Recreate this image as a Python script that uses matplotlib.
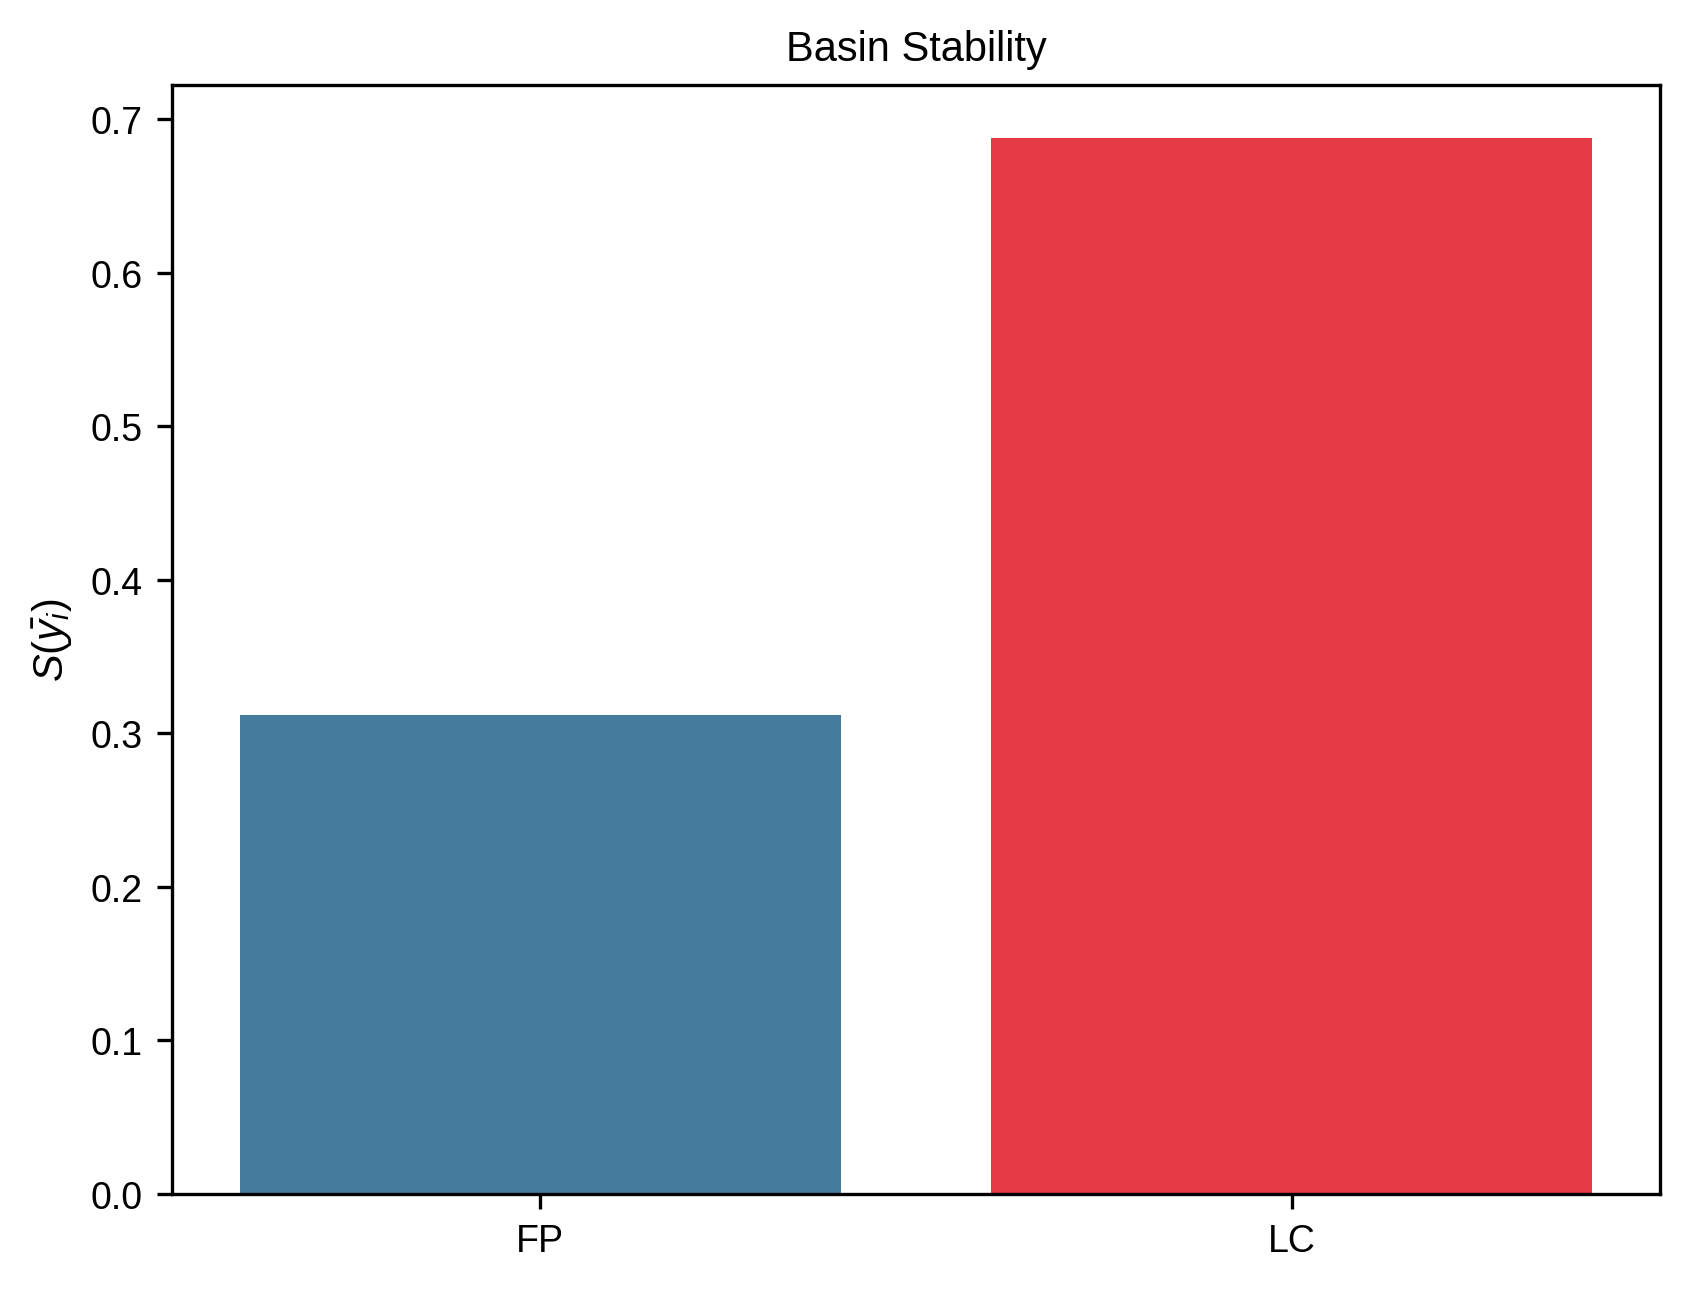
import matplotlib
matplotlib.use("Agg")
import matplotlib.pyplot as plt

# datos
categorias = ["FP", "LC"]
valores = [0.312, 0.688]
colores = ["#457B9D", "#E63946"]

plt.rcParams["font.family"] = ["Liberation Sans", "DejaVu Sans"]
plt.rcParams["font.size"] = 9
plt.rcParams["mathtext.fontset"] = "custom"
plt.rcParams["mathtext.rm"] = "Liberation Sans"
plt.rcParams["mathtext.it"] = "Liberation Sans:italic"
plt.rcParams["mathtext.cal"] = "Liberation Sans:italic"

fig, ax = plt.subplots(figsize=(6.4, 4.8))
ax.bar(categorias, valores, color=colores, width=0.8)
ax.set_ylabel(r"$\mathcal{S}(\bar{y_i})$", fontsize=10)
ax.set_title("Basin Stability", fontsize=10)

fig.savefig("out.png", dpi=300, bbox_inches="tight")
